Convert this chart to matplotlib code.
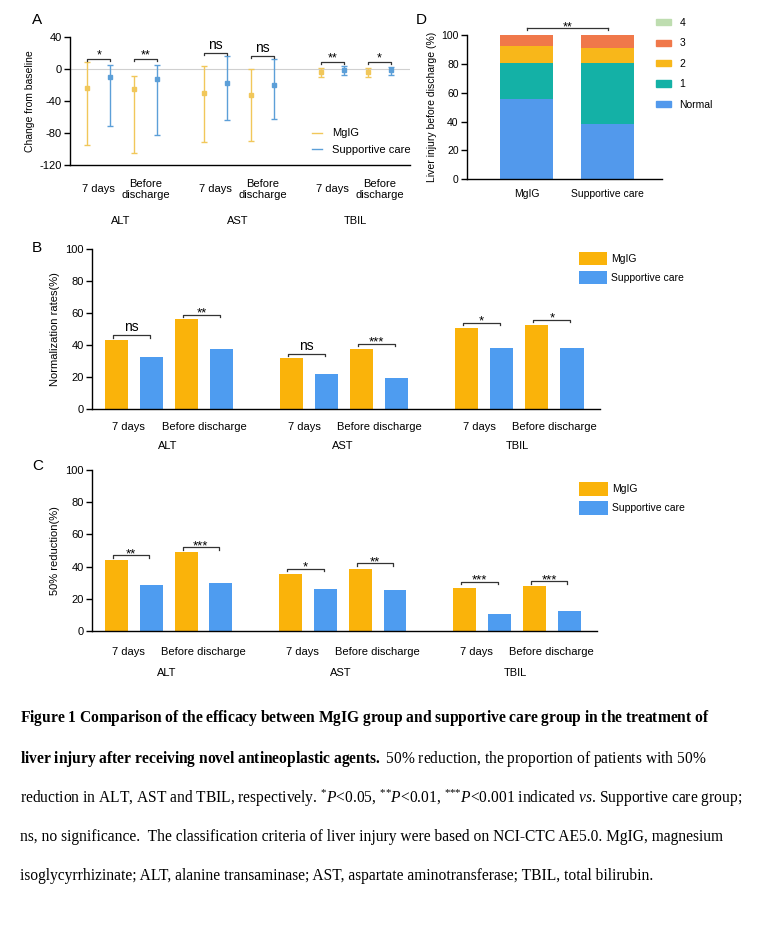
import matplotlib
matplotlib.use("Agg")
import matplotlib.pyplot as plt
import matplotlib.transforms as mtransforms
from matplotlib.patches import Patch
from matplotlib.lines import Line2D
import numpy as np

plt.rcParams['font.family'] = ['Liberation Sans', 'DejaVu Sans']
plt.rcParams['axes.unicode_minus'] = False
plt.rcParams['mathtext.fontset'] = 'custom'
plt.rcParams['mathtext.rm'] = 'Liberation Serif'
plt.rcParams['mathtext.it'] = 'Liberation Serif:italic'
plt.rcParams['mathtext.bf'] = 'Liberation Serif:bold'

# ---------------- data ----------------
timepoints = ["7 days", "Before discharge"]
markers = ["ALT", "AST", "TBIL"]
groups = ["MgIG", "Supportive care"]

# Panel A: change from baseline (mean, lower, upper)
a_mgig_mean = [-23.5, -25.5, -30.0, -33.0, -4.0, -4.0]
a_mgig_low = [-95.0, -105.0, -91.5, -89.5, -9.5, -10.0]
a_mgig_high = [8.5, -8.5, 4.0, -0.5, 1.0, 1.0]
a_sup_mean = [-10.5, -12.0, -18.0, -20.5, -1.3, -1.0]
a_sup_low = [-71.5, -83.0, -64.0, -62.5, -7.5, -7.5]
a_sup_high = [5.5, 5.5, 16.0, 13.0, 4.0, 3.0]
a_sig = ["*", "**", "ns", "ns", "**", "*"]
a_sig_y = [12, 12, 20.5, 16.5, 9, 8.5]

# Panel B: normalization rates (%)
b_mgig = [43, 56, 31.7, 37.6, 50.6, 52.7]
b_sup = [32.8, 37.6, 21.6, 19.5, 38.2, 38.2]
b_sig = ["ns", "**", "ns", "***", "*", "*"]
b_sig_y = [46, 59, 34.6, 40.9, 54, 55.8]

# Panel C: 50% reduction (%)
c_mgig = [44.2, 49.0, 35.7, 38.8, 26.4, 27.9]
c_sup = [28.3, 29.8, 26.2, 25.6, 10.5, 12.6]
c_sig = ["**", "***", "*", "**", "***", "***"]
c_sig_y = [46.9, 51.9, 38.8, 42.0, 30.6, 31.0]

# Panel D: liver injury grade before discharge (%)
d_groups = ["MgIG", "Supportive care"]
d_grades = ["Normal", "1", "2", "3", "4"]
d_values = {
    "Normal": [56, 38],
    "1": [24.5, 42.7],
    "2": [12.3, 10.5],
    "3": [7.2, 8.8],
    "4": [0, 0],
}
d_sig = "**"

# ---------------- styles ----------------
ORANGE = '#FAB30A'
BLUE = '#4E9CF0'
A_YEL = '#F1C75A'
A_BLU = '#5C9FD8'
D_COLORS = {"Normal": '#5299EC', "1": '#14B1A6', "2": '#F8B71A',
            "3": '#F0784A', "4": '#BEDDB0'}

W, H = 768, 934
fig = plt.figure(figsize=(W / 100, H / 100), dpi=100)


def axrect(l, r, t, b):
    return [l / W, 1 - b / H, (r - l) / W, (b - t) / H]


# x positions: pairs of bars, groups of 4 with a gap
pos_m = np.array([0, 2, 5, 7, 10, 12], dtype=float)
pos_s = pos_m + 1


def style_axis(ax):
    for s in ['top', 'right']:
        ax.spines[s].set_visible(False)
    for s in ['left', 'bottom']:
        ax.spines[s].set_linewidth(1.0)
    ax.tick_params(axis='y', length=4, width=1, labelsize=8, pad=2)
    ax.tick_params(axis='x', length=0)
    ax.set_xticks([])


def bracket(ax, x1, x2, y, txt, dy, fs, tick):
    ax.plot([x1, x1, x2, x2], [y - tick, y, y, y - tick], color='#333333', lw=0.9,
            clip_on=False)
    ax.text((x1 + x2) / 2, y + dy, txt, ha='center', va='bottom',
            fontsize=fs, clip_on=False)


def xlabels(ax, y1_off, y2_off, two_line, shift=0.0):
    trans = mtransforms.blended_transform_factory(ax.transData, ax.transAxes)
    for i in range(3):
        base = i * 5
        for j, tp in enumerate(timepoints):
            lab = tp
            if two_line and tp == "Before discharge":
                lab = "Before\ndischarge"
            ax.text(base + 0.5 + 2 * j + (shift if j == 0 else 0), y1_off, lab,
                    transform=trans, ha='center', va='center', fontsize=8,
                    linespacing=1.1)
        ax.text(base + 1.45, y2_off, markers[i], transform=trans,
                ha='center', va='center', fontsize=8)


# ---------------- Panel A ----------------
axA = fig.add_axes(axrect(70, 410, 37, 165))
style_axis(axA)
axA.set_ylim(-120, 40)
axA.set_xlim(-0.73, 13.8)
axA.set_yticks([40, 0, -40, -80, -120])
axA.axhline(0, color='#d0d0d0', lw=0.8, zorder=0)
m = np.array(a_mgig_mean)
s = np.array(a_sup_mean)
axA.errorbar(pos_m, m, yerr=[m - np.array(a_mgig_low), np.array(a_mgig_high) - m],
             fmt='s', ms=2.5, color=A_YEL, ecolor=A_YEL, elinewidth=1.0,
             capsize=2, capthick=1.0, label=groups[0])
axA.errorbar(pos_s, s, yerr=[s - np.array(a_sup_low), np.array(a_sup_high) - s],
             fmt='s', ms=2.5, color=A_BLU, ecolor=A_BLU, elinewidth=1.0,
             capsize=2, capthick=1.0, label=groups[1])
for i in range(6):
    fs = 10 if a_sig[i] == 'ns' else 9
    dy = 0.5 if a_sig[i] == 'ns' else -3
    bracket(axA, pos_m[i], pos_s[i], a_sig_y[i], a_sig[i], dy, fs, 2.5)
axA.set_ylabel("Change from baseline", fontsize=7.5, labelpad=3)
xlabels(axA, -0.19, -0.44, True)
hA = [Line2D([0], [0], color=A_YEL, lw=1), Line2D([0], [0], color=A_BLU, lw=1)]
axA.legend(hA, groups, loc='upper left', bbox_to_anchor=(0.70, 0.32), frameon=False,
           fontsize=8, handlelength=0.9, handletextpad=0.9, labelspacing=0.55,
           borderaxespad=0)
fig.text(32 / W, 1 - 20 / H, "A", fontsize=11, va='center', ha='left')

# ---------------- Panel D ----------------
axD = fig.add_axes(axrect(467, 662, 35.3, 179))
style_axis(axD)
axD.set_ylim(0, 100)
axD.set_xlim(-0.735, 1.67)
axD.set_yticks([0, 20, 40, 60, 80, 100])
axD.tick_params(axis='y', labelsize=7.5)
bottom = np.zeros(2)
for g in d_grades:
    vals = np.array(d_values[g])
    axD.bar([0, 1], vals, bottom=bottom, width=0.654, color=D_COLORS[g],
            label=g, linewidth=0)
    bottom += vals
axD.set_xticks([0, 1])
axD.set_xticklabels(d_groups, fontsize=7.5)
axD.tick_params(axis='x', pad=7)
bracket(axD, 0, 1, 105, d_sig, -4, 9, 0)
axD.plot([0, 0], [104, 105], color='#333333', lw=0.9, clip_on=False)
axD.plot([1, 1], [104, 105], color='#333333', lw=0.9, clip_on=False)
axD.set_ylabel("Liver injury before discharge (%)", fontsize=7.5, labelpad=3)
hD = [Patch(color=D_COLORS[g]) for g in d_grades[::-1]]
axD.legend(hD, d_grades[::-1], loc='upper left', bbox_to_anchor=(0.95, 1.15),
           frameon=False, fontsize=7.5, handlelength=1.4, handleheight=0.55,
           handletextpad=0.8, labelspacing=1.0, borderaxespad=0)
fig.text(416 / W, 1 - 20 / H, "D", fontsize=11, va='center', ha='left')


# ---------------- Panels B and C ----------------
def bar_panel(rect, mg, sp, sig, sig_y, ylabel, letter, letter_y, leg_anchor,
              xl1, xl2):
    ax = fig.add_axes(rect)
    style_axis(ax)
    ax.set_ylim(0, 100)
    ax.set_xlim(-0.7, 13.8)
    ax.set_yticks([0, 20, 40, 60, 80, 100])
    ax.bar(pos_m, mg, width=0.66, color=ORANGE, label=groups[0], linewidth=0)
    ax.bar(pos_s, sp, width=0.66, color=BLUE, label=groups[1], linewidth=0)
    for i in range(6):
        fs = 10 if sig[i] == 'ns' else 9.5
        dy = 0.6 if sig[i] == 'ns' else -3.2
        bracket(ax, pos_m[i] - 0.1, pos_s[i] - 0.05, sig_y[i], sig[i], dy, fs, 1.6)
    ax.set_ylabel(ylabel, fontsize=8, labelpad=4)
    xlabels(ax, xl1, xl2, False, shift=-0.15)
    ax.legend(loc='upper left', bbox_to_anchor=leg_anchor, frameon=False,
              fontsize=7.5, handlelength=2.7, handleheight=1.6,
              handletextpad=0.4, labelspacing=0.55, borderaxespad=0)
    fig.text(32 / W, 1 - letter_y / H, letter, fontsize=11, va='center', ha='left')
    return ax


bar_panel(axrect(92, 600, 249, 409), b_mgig, b_sup, b_sig, b_sig_y,
          "Normalization rates(%)", "B", 248, (0.95, 1.01), -0.11, -0.23)
bar_panel(axrect(92, 597, 470, 631), c_mgig, c_sup, c_sig, c_sig_y,
          "50% reduction(%)", "C", 466, (0.957, 0.95), -0.13, -0.26)

# ---------------- Caption ----------------
cap_fs = 11.2
x0 = 20 / W
lines = [
    (r"$\mathbf{Figure\ 1\ Comparison\ of\ the\ efficacy\ between\ MgIG\ group\ and\ supportive\ care\ group\ in\ the\ treatment\ of}$", 718),
    (r"$\mathbf{liver\ injury\ after\ receiving\ novel\ antineoplastic\ agents.}$ 50% reduction, the proportion of patients with 50%", 759),
    (r"reduction in ALT, AST and TBIL, respectively. $^{\text{*}}\mathit{P}$<0.05, $^{\text{**}}\mathit{P}$<0.01, $^{\text{***}}\mathit{P}$<0.001 indicated $\mathit{vs.}\,$Supportive care group;", 798),
    (r"ns, no significance.  The classification criteria of liver injury were based on NCI-CTC AE5.0. MgIG, magnesium", 837),
    (r"isoglycyrrhizinate; ALT, alanine transaminase; AST, aspartate aminotransferase; TBIL, total bilirubin.", 876),
]
for txt, y in lines:
    fig.text(x0, 1 - y / H, txt, fontsize=cap_fs, family='Liberation Serif',
             va='center', ha='left')

fig.savefig("out.png", dpi=100)
